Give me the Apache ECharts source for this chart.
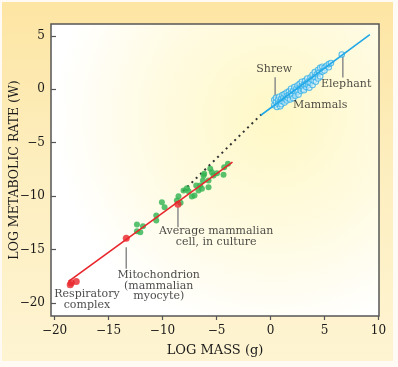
<!DOCTYPE html>
<html><head><meta charset="utf-8">
<script src="https://cdn.jsdelivr.net/npm/echarts@6/dist/echarts.min.js"></script>
<style>
html,body{margin:0;padding:0;background:#fffaf4;}
#wrap{position:relative;width:398px;height:367px;background:#fffaf4;}
#panel{position:absolute;left:2px;top:2px;width:391px;height:359px;
 background:linear-gradient(180deg,#fde5a3 0%,#fdeebe 45%,#fef4d2 100%);}
#chart{position:absolute;left:0;top:0;width:398px;height:367px;}
</style></head>
<body><div id="wrap"><div id="panel"></div><div id="chart"></div></div>
<script>
// ---- data ----
const xTicks = [-20, -15, -10, -5, 0, 5, 10];
const yTicks = [-20, -15, -10, -5, 0, 5];
const mammalPoints = [
 [0.35,-1.0],[0.35,-1.5],[0.5,-1.2],[0.5,-0.8],[0.6,-1.65],[0.7,-1.0],[0.7,-1.35],[0.8,-0.7],
 [0.9,-1.2],[0.9,-1.6],[1.0,-0.9],[1.0,-1.4],[1.1,-0.55],[1.1,-1.1],[1.2,-0.8],[1.3,-1.25],
 [1.3,-0.45],[1.4,-0.9],[1.5,-0.3],[1.5,-0.65],[1.5,-1.05],[1.6,-0.8],[1.7,-0.2],[1.7,-0.55],
 [1.8,-0.95],[1.9,-0.35],[1.9,0.05],[2.0,-0.6],[2.1,-0.15],[2.1,-0.85],[2.2,0.2],[2.3,-0.3],
 [2.3,-0.6],[2.4,0.05],[2.5,-0.25],[2.5,0.35],[2.6,-0.5],[2.7,0.15],[2.7,0.5],[2.8,-0.15],
 [2.9,0.3],[2.9,0.7],[3.0,0.0],[3.1,0.45],[3.1,-0.1],[3.2,0.8],[3.3,0.2],[3.3,0.5],[3.4,1.0],
 [3.5,0.4],[3.5,0.7],[3.6,0.15],[3.7,1.1],[3.7,0.6],[3.8,0.9],[3.9,0.4],[3.9,1.35],[4.0,0.8],
 [4.1,1.15],[4.1,1.6],[4.2,0.7],[4.3,1.4],[4.4,1.0],[4.4,1.8],[4.5,1.55],[4.6,1.2],[4.6,2.0],
 [4.8,1.65],[4.8,2.1],[5.0,2.0],[5.0,1.75],[5.2,2.2],[5.4,2.05],[5.4,2.35],[5.6,2.45],[6.6,3.25]
];
const mammalFit = [[-0.9,-2.43],[9.2,5.1]];
const cellPoints = [
 [-12.37,-12.64],[-12.37,-13.27],[-12.06,-13.36],[-11.81,-12.8],[-10.58,-11.8],[-10.58,-12.27],
 [-10.06,-10.56],[-9.81,-11.03],[-8.67,-10.4],[-8.52,-10.0],[-8.33,-10.62],[-8.05,-9.47],[-7.74,-9.25],
 [-7.59,-9.53],[-7.28,-10.03],[-7.04,-9.93],[-6.88,-9.0],[-6.67,-9.47],[-6.51,-9.0],[-6.35,-9.31],
 [-6.26,-8.53],[-6.14,-7.91],[-6.2,-8.07],[-5.74,-9.16],[-5.74,-8.53],[-5.58,-7.44],[-5.43,-7.76],
 [-5.28,-8.07],[-4.96,-7.85],[-4.35,-8.0],[-4.29,-7.29],[-3.94,-6.97]
];
const subcellPoints = [[-18.55,-18.28],[-18.45,-18.1],[-17.99,-17.97],[-13.36,-13.93],[-8.57,-10.75]];
const cellFit = [[-18.7,-17.97],[-3.52,-6.82]];
const bridge = [[-8.1,-9.53],[-0.85,-2.35]];
const leaders = [
 [[0.43,1.12],[0.43,-0.8]],
 [[6.7,3.1],[6.7,1.1]],
 [[-8.57,-11.03],[-8.57,-12.9]],
 [[-13.36,-14.77],[-13.36,-16.79]]
];
const annotations = [
 {text:'Shrew', pos:[0.34,1.91]},
 {text:'Elephant', pos:[7.01,0.5]},
 {text:'Mammals', pos:[4.6,-1.52]},
 {text:'Average mammalian\ncell, in culture', pos:[-5.03,-13.79]},
 {text:'Mitochondrion\n(mammalian\nmyocyte)', pos:[-10.35,-18.39]},
 {text:'Respiratory\ncomplex', pos:[-17.0,-19.65]}
];

// ---- chart ----
const chart = echarts.init(document.getElementById('chart'), null, {renderer:'canvas'});
const FONT = '"DejaVu Serif", serif';
const minus = v => String(v).replace('-', '\u2212');
const series = [];
series.push({type:'line', data:bridge, symbol:'none', silent:true,
  lineStyle:{color:'#333', width:2, type:[2,4]}, z:2});
series.push({type:'scatter', data:mammalPoints, symbol:'circle', symbolSize:5.5, silent:true,
  itemStyle:{color:'rgba(215,240,252,0.75)', borderColor:'#35b0e8', borderWidth:1.1}, z:3});
series.push({type:'line', data:mammalFit, symbol:'none', silent:true,
  lineStyle:{color:'#22a8e6', width:1.6}, z:4});
series.push({type:'scatter', data:cellPoints, symbol:'circle', symbolSize:6, silent:true,
  itemStyle:{color:'#2fb34f'}, z:3});
series.push({type:'line', data:cellFit, symbol:'none', silent:true,
  lineStyle:{color:'#e8262b', width:1.6}, z:4});
series.push({type:'scatter', data:subcellPoints, symbol:'circle', symbolSize:7, silent:true,
  itemStyle:{color:'#e8262b'}, z:5});
leaders.forEach(seg => series.push({type:'line', data:seg, symbol:'none', silent:true,
  lineStyle:{color:'#8c8c8c', width:1.5}, z:2}));
series.push({type:'scatter', silent:true, symbolSize:1, itemStyle:{color:'rgba(0,0,0,0)'}, z:6,
  data: annotations.map(a => ({value:a.pos, label:{formatter:a.text}})),
  label:{show:true, position:'inside', color:'#1a1a1a', fontFamily:FONT, fontSize:11,
    lineHeight:10.5, align:'center', verticalAlign:'middle'}});

chart.setOption({
  animation:false,
  grid:{left:51, right:19, top:24, bottom:51, show:true, outerBoundsMode:'none', containLabel:false,
    borderColor:'#555', borderWidth:1.5,
    backgroundColor:{type:'radial', x:0.68, y:0.32, r:0.75,
      colorStops:[{offset:0,color:'#fff8c6'},{offset:0.55,color:'#fffbe2'},{offset:1,color:'#ffffff'}]}},
  xAxis:{type:'value', min:-20.33, max:10.05,
    name:'LOG MASS (g)', nameLocation:'middle', nameGap:28, nameMoveOverlap:false,
    nameTextStyle:{fontFamily:FONT, fontSize:13, color:'#1a1a1a'},
    axisLine:{show:false, onZero:false}, splitLine:{show:false},
    axisTick:{show:true, inside:false, length:4, customValues:xTicks, lineStyle:{color:'#555', width:1.2}},
    axisLabel:{customValues:xTicks, formatter:minus, margin:9, fontFamily:FONT, fontSize:12, color:'#1a1a1a'}},
  yAxis:{type:'value', min:-21.2, max:6.1,
    name:'LOG METABOLIC RATE (W)', nameLocation:'middle', nameGap:30, nameRotate:90, nameMoveOverlap:false,
    nameTextStyle:{fontFamily:FONT, fontSize:12.5, color:'#1a1a1a'},
    axisLine:{show:false, onZero:false}, splitLine:{show:false},
    axisTick:{show:true, inside:true, length:5, customValues:yTicks, lineStyle:{color:'#555', width:1.2}},
    axisLabel:{customValues:yTicks, formatter:minus, margin:6, fontFamily:FONT, fontSize:12, color:'#1a1a1a'}},
  series:series
});
</script></body></html>
